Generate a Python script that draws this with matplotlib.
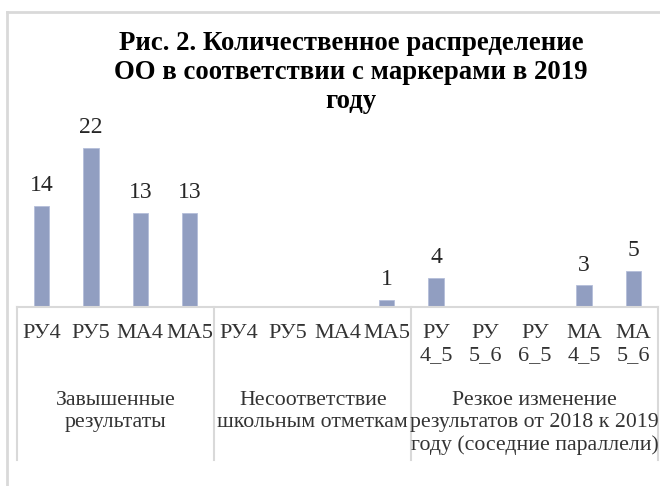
import numpy as np
import matplotlib
matplotlib.use('Agg')
import matplotlib.pyplot as plt
from matplotlib.lines import Line2D

plt.rcParams['font.family'] = ['Liberation Serif', 'DejaVu Serif']

# data
groups = ['Завышенные\nрезультаты',
          'Несоответствие\nшкольным отметкам',
          'Резкое изменение\nрезультатов от 2018 к 2019\nгоду (соседние параллели)']
categories = [
    ['РУ4', 'РУ5', 'МА4', 'МА5'],
    ['РУ4', 'РУ5', 'МА4', 'МА5'],
    ['РУ\n4_5', 'РУ\n5_6', 'РУ\n6_5', 'МА\n4_5', 'МА\n5_6'],
]
values = [
    [14, 22, 13, 13],
    [None, None, None, 1],
    [4, None, None, 3, 5],
]
title = 'Рис. 2. Количественное распределение\nОО в соответствии с маркерами в 2019\nгоду'

BAR = '#919EC1'
GRID = '#D9D9D9'
TXT = '#333333'

labels = sum(categories, [])
vals = np.array([np.nan if v is None else v for v in sum(values, [])], dtype=float)
x = np.arange(len(labels))

fig = plt.figure(figsize=(6.6, 4.86), dpi=100)
ax = fig.add_axes([17 / 660, (486 - 307) / 486, 641 / 660, 181 / 486])

bars = ax.bar(x, np.nan_to_num(vals), width=0.31, color=BAR, edgecolor='#B4BEDA', linewidth=0.6)
bar_txt = ['' if np.isnan(v) else str(int(v)) for v in vals]
ax.bar_label(bars, labels=bar_txt, padding=7, fontsize=17, color='#262626')

ax.set_xlim(-0.5, len(labels) - 0.5)
ax.set_ylim(0, 25)
ax.set_yticks([])
ax.set_xticks(x)
ax.set_xticklabels(labels, fontsize=16, color=TXT, linespacing=1.25)
ax.tick_params(axis='x', length=0, pad=12)
for s in ['top', 'right', 'left']:
    ax.spines[s].set_visible(False)
ax.spines['bottom'].set_color(GRID)
ax.spines['bottom'].set_linewidth(1.5)

# group separators and group labels
tr = ax.get_xaxis_transform()
edges = np.cumsum([0] + [len(c) for c in categories]) - 0.5
for e in edges:
    ax.add_line(Line2D([e, e], [0, -0.845], transform=tr, color=GRID, lw=1.5, clip_on=False))
for i, g in enumerate(groups):
    cx = (edges[i] + edges[i + 1]) / 2
    ax.text(cx, -0.465, g, transform=tr, ha='center', va='top', fontsize=15.7,
            color=TXT, linespacing=1.22)

# chart frame
fig.add_artist(Line2D([7 / 660, 1], [1 - 12 / 486] * 2, color=GRID, lw=2))
fig.add_artist(Line2D([7 / 660] * 2, [0, 1 - 12 / 486], color=GRID, lw=2))

fig.text(351 / 660, 1 - 31 / 486, title, ha='center', va='top', fontsize=19.3,
         fontweight='bold', color='black', linespacing=1.22)

fig.savefig('out.png', dpi=100)
